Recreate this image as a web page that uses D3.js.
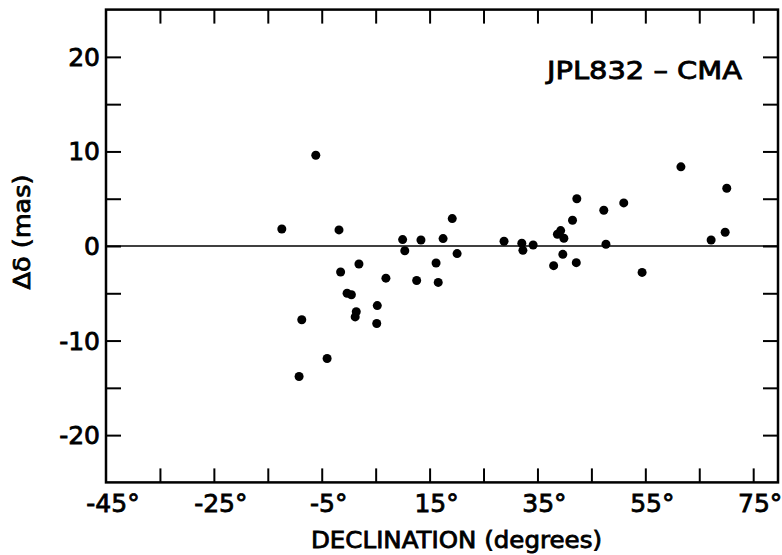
<!DOCTYPE html>
<html>
<head>
<meta charset="utf-8">
<script src="https://cdn.jsdelivr.net/npm/d3@7"></script>
<style>
  body { margin: 0; background: #fff; }
  text { font-family: "DejaVu Sans", sans-serif; fill: #000; stroke: #000; stroke-width: 0.8px; }
</style>
</head>
<body>
<script>
// declination (deg) and delta-delta (mas)
const decl  = [-12.4, -9.2, -8.7, -6.1, -4.0, -1.8, -1.5, -0.3, 0.5, 1.2, 1.4, 1.9, 5.2, 5.3, 6.9,
               10.0, 10.4, 12.6, 13.4, 16.2, 16.6, 17.5, 19.2, 20.1, 28.8, 32.1, 32.3, 34.2,
               38.0, 38.7, 39.3, 39.7, 39.9, 41.5, 42.2, 42.3, 47.3, 47.7, 51.0, 54.4,
               61.6, 67.2, 69.8, 70.1];
const dDelta = [1.8, -13.8, -7.8, 9.6, -11.9, 1.7, -2.75, -5.0, -5.15, -7.5, -6.95, -1.9, -8.2, -6.3, -3.4,
               0.68, -0.5, -3.65, 0.64, -1.8, -3.85, 0.78, 2.9, -0.8, 0.5, 0.29, -0.46, 0.1,
               -2.08, 1.24, 1.63, -0.88, 0.82, 2.72, -1.76, 5.0, 3.78, 0.18, 4.56, -2.79,
               8.37, 0.64, 1.45, 6.11];

const xTicks = [-35, -25, -15, -5, 5, 15, 25, 35, 45, 55, 65, 75];
const xLabels = [-45, -25, -5, 15, 35, 55, 75];
const yTicks = [-20, -15, -10, -5, 0, 5, 10, 15, 20];
const yLabels = [-20, -10, 0, 10, 20];

const width = 782, height = 555;
const svg = d3.select("body").append("svg")
    .attr("width", width).attr("height", height);

const x = d3.scaleLinear().domain([-45, 79.6]).range([106, 778]);
const y = d3.scaleLinear().domain([-25, 25]).range([482.4, 9.6]);

// inward ticks on all four sides
function ticks(g){
  g.select(".domain").remove();
  g.selectAll("line").attr("stroke", "#000").attr("stroke-width", 2);
}
svg.append("g").attr("transform", `translate(0,${y(-25)})`)
  .call(d3.axisBottom(x).tickValues(xTicks).tickSize(-14).tickFormat("")).call(ticks);
svg.append("g").attr("transform", `translate(0,${y(25)})`)
  .call(d3.axisTop(x).tickValues(xTicks).tickSize(-14).tickFormat("")).call(ticks);
svg.append("g").attr("transform", `translate(${x(-45)},0)`)
  .call(d3.axisLeft(y).tickValues(yTicks).tickSize(-15).tickFormat("")).call(ticks);
svg.append("g").attr("transform", `translate(${x(79.6)},0)`)
  .call(d3.axisRight(y).tickValues(yTicks).tickSize(-15).tickFormat("")).call(ticks);

// frame
svg.append("rect")
  .attr("x", x(-45)).attr("y", y(25))
  .attr("width", x(79.6) - x(-45)).attr("height", y(-25) - y(25))
  .attr("fill", "none").attr("stroke", "#000").attr("stroke-width", 2.5);

// zero line
svg.append("line")
  .attr("x1", x(-45)).attr("x2", x(79.6))
  .attr("y1", y(0)).attr("y2", y(0))
  .attr("stroke", "#000").attr("stroke-width", 1.5);

// tick labels
svg.append("g").selectAll("text")
  .data(xLabels).enter().append("text")
  .attr("x", d => x(d) + 7).attr("y", 512)
  .attr("text-anchor", "middle").style("font-size", "25px")
  .text(d => d + "\u00B0");

svg.append("g").selectAll("text")
  .data(yLabels).enter().append("text")
  .attr("x", 100).attr("y", d => y(d) + 9)
  .attr("text-anchor", "end").style("font-size", "25px")
  .text(d => d);

// points
svg.append("g").selectAll("circle")
  .data(decl.map((d, i) => [d, dDelta[i]]))
  .enter().append("circle")
  .attr("cx", d => x(d[0])).attr("cy", d => y(d[1]))
  .attr("r", 4.5).attr("fill", "#000");

// titles
svg.append("text")
  .attr("x", 547).attr("y", 79)
  .attr("textLength", 195).attr("lengthAdjust", "spacingAndGlyphs")
  .style("font-size", "24px")
  .text("JPL832 \u2013 CMA");

svg.append("text")
  .attr("x", 311).attr("y", 548)
  .attr("textLength", 291).attr("lengthAdjust", "spacingAndGlyphs")
  .style("font-size", "23px")
  .text("DECLINATION (degrees)");

svg.append("text")
  .attr("transform", "translate(30,232) rotate(-90)")
  .attr("text-anchor", "middle")
  .attr("textLength", 115).attr("lengthAdjust", "spacingAndGlyphs")
  .style("font-size", "23px")
  .text("\u0394\u03B4 (mas)");
</script>
</body>
</html>
